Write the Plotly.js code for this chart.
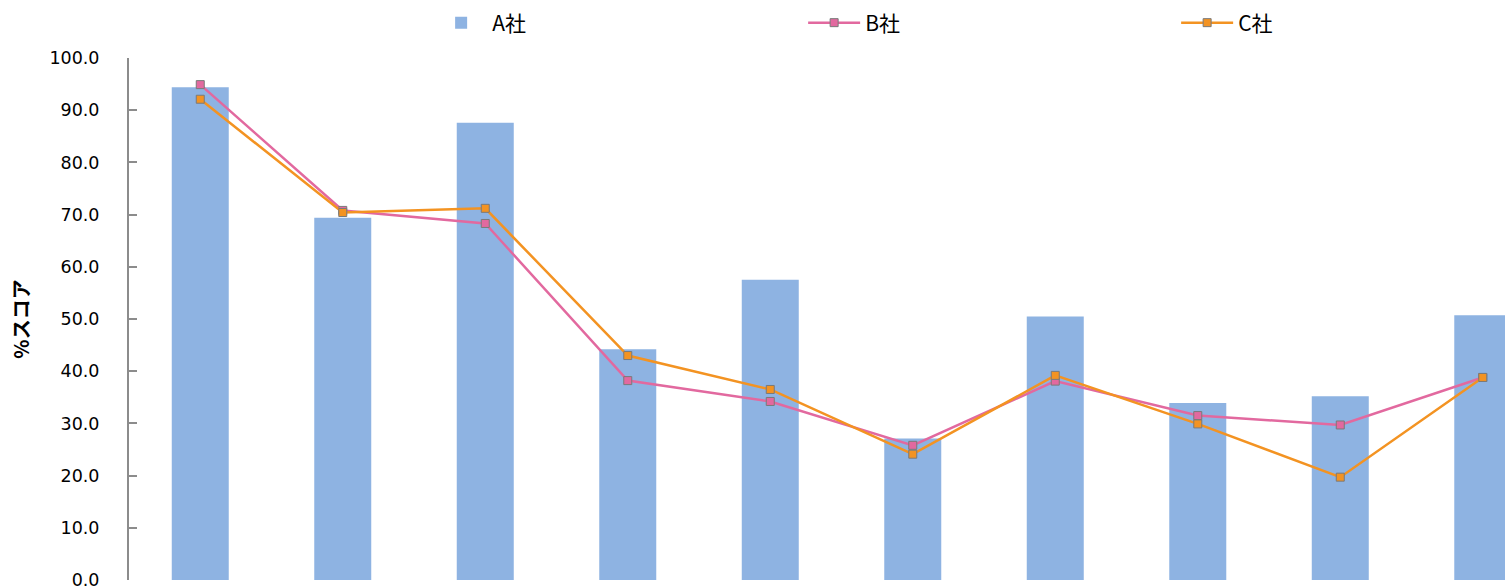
<!DOCTYPE html>
<html>
<head>
<meta charset="utf-8">
<script src="https://cdn.plot.ly/plotly-3.0.1.min.js"></script>
<style>
  html, body { margin: 0; padding: 0; background: #ffffff; }
  #chart { width: 1505px; height: 588px; }
</style>
</head>
<body>
<div id="chart"></div>
<script>
// Data
const categories = ["1", "2", "3", "4", "5", "6", "7", "8", "9", "10"];
const seriesNames = ["A社", "B社", "C社"];
const companyA = [94.4, 69.4, 87.6, 44.2, 57.5, 27.1, 50.5, 33.9, 35.2, 50.7];
const companyB = [94.9, 70.8, 68.3, 38.2, 34.2, 25.8, 38.1, 31.5, 29.7, 38.8];
const companyC = [92.1, 70.4, 71.2, 43.0, 36.5, 24.1, 39.2, 29.9, 19.7, 38.8];
const yTitle = "%スコア";

const traces = [
  {
    type: "bar",
    name: seriesNames[0],
    x: categories,
    y: companyA,
    marker: { color: "#8EB3E2" },
    hoverinfo: "skip"
  },
  {
    type: "scatter",
    mode: "lines+markers",
    name: seriesNames[1],
    x: categories,
    y: companyB,
    line: { color: "#E2699F", width: 2.5 },
    marker: { symbol: "square", size: 8, color: "#E2699F", line: { color: "#7a7a7a", width: 1 } }
  },
  {
    type: "scatter",
    mode: "lines+markers",
    name: seriesNames[2],
    x: categories,
    y: companyC,
    line: { color: "#F39322", width: 2.5 },
    marker: { symbol: "square", size: 8, color: "#F39322", line: { color: "#7a7a7a", width: 1 } }
  }
];

const layout = {
  width: 1505,
  height: 588,
  margin: { l: 129, r: 0, t: 58, b: 8 },
  paper_bgcolor: "#ffffff",
  plot_bgcolor: "#ffffff",
  font: { family: "'Noto Sans CJK JP', 'DejaVu Sans', sans-serif", color: "#000000" },
  bargap: 0.6,
  showlegend: true,
  legend: {
    orientation: "h",
    xref: "container",
    yref: "container",
    x: 0.2858,
    xanchor: "left",
    y: 1 - 23 / 588,
    yanchor: "middle",
    entrywidth: 306,
    entrywidthmode: "pixels",
    itemwidth: 52,
    font: { size: 21, color: "#000000", family: "'Noto Sans CJK JP', sans-serif" },
    itemclick: false,
    itemdoubleclick: false
  },
  xaxis: {
    type: "category",
    range: [-0.5, 9.156],
    showticklabels: false,
    ticks: "",
    showline: false,
    showgrid: false,
    zeroline: false,
    fixedrange: true
  },
  yaxis: {
    range: [0, 100],
    tickmode: "linear",
    dtick: 10,
    tick0: 0,
    tickformat: ".1f",
    ticks: "inside",
    ticklen: 8,
    tickwidth: 2,
    tickcolor: "#8c8c8c",
    showline: true,
    linecolor: "#8c8c8c",
    linewidth: 2,
    showgrid: false,
    zeroline: false,
    ticklabelstandoff: 24,
    ticklabeloverflow: "allow",
    tickfont: { family: "'DejaVu Sans', sans-serif", size: 17.5, color: "#000000" },
    title: {
      text: yTitle,
      font: { family: "'Noto Sans CJK JP', sans-serif", size: 20, color: "#000000", weight: "bold" },
      standoff: 14
    },
    fixedrange: true
  }
};

Plotly.newPlot("chart", traces, layout, { displayModeBar: false, staticPlot: true });
</script>
</body>
</html>
